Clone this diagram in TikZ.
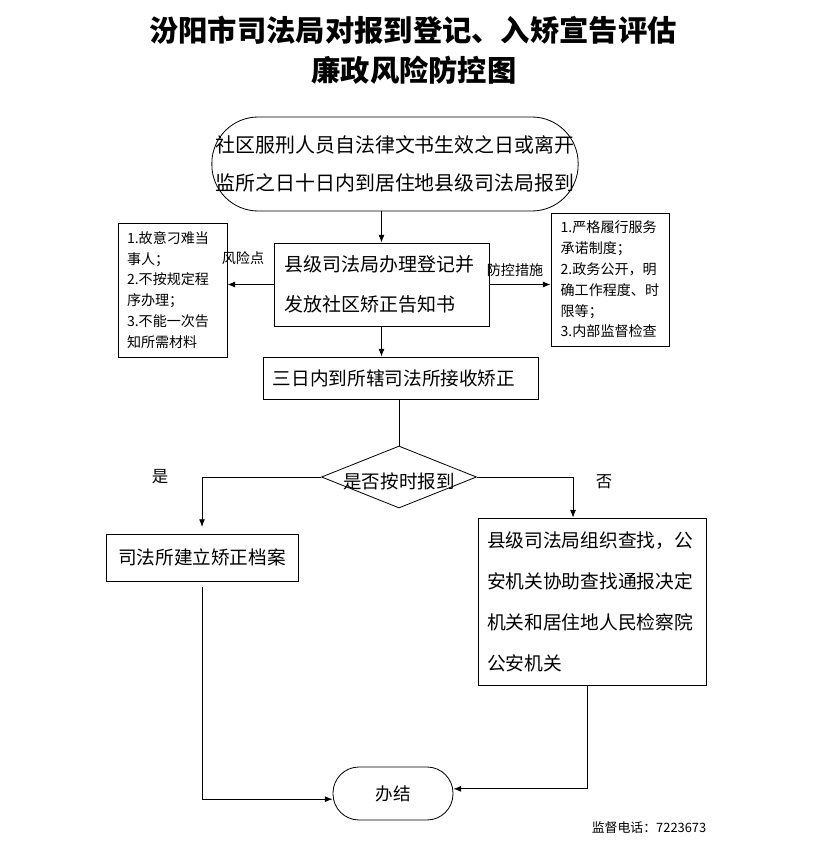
\documentclass[tikz,border=0pt]{standalone}
\usepackage{fontspec}
\setmainfont{Noto Sans CJK SC}
\usetikzlibrary{shapes.geometric,arrows.meta}
\newcommand{\fs}[2]{\fontsize{#1}{#2}\selectfont}

\begin{document}
\begin{tikzpicture}[>={Latex[length=6.5pt,width=5pt]}, x=0.03cm, y=-0.03cm, line width=0.7pt,
  box/.style={draw, rectangle, inner ysep=0pt},
  note/.style={box, align=left, font=\fs{12pt}{17.8pt}},
  lbl/.style={font=\fs{12pt}{14pt}}]
\useasboundingbox (0,0) rectangle (823,852);
% title
\node[font=\fs{25pt}{30pt}\bfseries] (title1) at (413,30) {汾阳市司法局对报到登记、入矫宣告评估};
\node[font=\fs{25pt}{30pt}\bfseries] (title2) at (414,70) {廉政风险防控图};
% flow
\node[box, rounded corners=1.39cm, minimum width=10.8cm, minimum height=2.82cm,
  align=center, font=\fs{17pt}{33pt}] (start) at (395,164)
  {社区服刑人员自法律文书生效之日或离开\\监所之日十日内到居住地县级司法局报到};
\node[box, minimum width=6.45cm, minimum height=2.49cm, text width=5.8cm,
  inner xsep=0.32cm, align=left, font=\fs{16.2pt}{34pt}] (reg) at (381.5,284.5)
  {县级司法局办理登记并\\发放社区矫正告知书};
\node[note, minimum height=4.02cm, text width=2.73cm, inner xsep=0.27cm] (risk) at (172.5,290)
  {1.故意刁难当\\事人；\\2.不按规定程\\序办理；\\3.不能一次告\\知所需材料};
\node[note, minimum height=3.99cm, text width=2.96cm, inner xsep=0.29cm] (ctrl) at (610,279.5)
  {1.严格履行服务\\承诺制度；\\2.政务公开，明\\确工作程度、时\\限等；\\3.内部监督检查};
\node[box, minimum height=1.26cm, text width=7.65cm, inner xsep=0.3cm,
  align=left, font=\fs{15.9pt}{18pt}] (recv) at (400.5,378) {三日内到所辖司法所接收矫正};
\node[draw, diamond, minimum width=4.65cm, minimum height=1.86cm, inner sep=0pt] (dec) at (399,477) {};
\node[font=\fs{15.8pt}{18pt}] (declbl) at (399,481) {是否按时报到};
\node[box, minimum width=5.76cm, minimum height=1.41cm, font=\fs{15.9pt}{18pt}] (sfs) at (202,557.5)
  {司法所建立矫正档案};
\node[box, minimum height=5.01cm, text width=6.3cm, inner xsep=0.27cm,
  align=left, font=\fs{16pt}{35pt}] (search) at (592,601.5)
  {县级司法局组织查找，公\\安机关协助查找通报决定\\机关和居住地人民检察院\\公安机关};
\node[box, rounded corners=0.78cm, minimum width=3.6cm, minimum height=1.59cm,
  font=\fs{15pt}{18pt}] (done) at (393,793.5) {办结};
% labels
\node[lbl] (risklbl) at (243,258) {风险点};
\node[lbl] (ctrllbl) at (515,270) {防控措施};
\node[font=\fs{14pt}{16pt}] (yes) at (160,477) {是};
\node[font=\fs{14pt}{16pt}] (no) at (604,482) {否};
\node[font=\fs{11pt}{13pt}] (phone) at (649,828) {监督电话：7223673};
% connectors
\draw[->] (start.south -| reg.north) -- (reg.north);
\draw[->] (reg.west) -- (reg.west -| risk.east);
\draw[->] (reg.east) -- (reg.east -| ctrl.west);
\draw[->] (reg.south) -- (reg.south |- recv.north);
\draw (recv.south -| dec.north) -- (dec.north);
\draw[->, shorten >=0.2cm] (dec.west) -| (sfs.north);
\draw[->] (dec.east) -| ([xshift=-0.57cm]search.north);
\draw[->] ([yshift=-0.18cm]sfs.south) |- ([yshift=-0.17cm]done.west);
\draw[->] ([xshift=-0.15cm]search.south) |- ([yshift=0.14cm]done.east);
\end{tikzpicture}
\end{document}
